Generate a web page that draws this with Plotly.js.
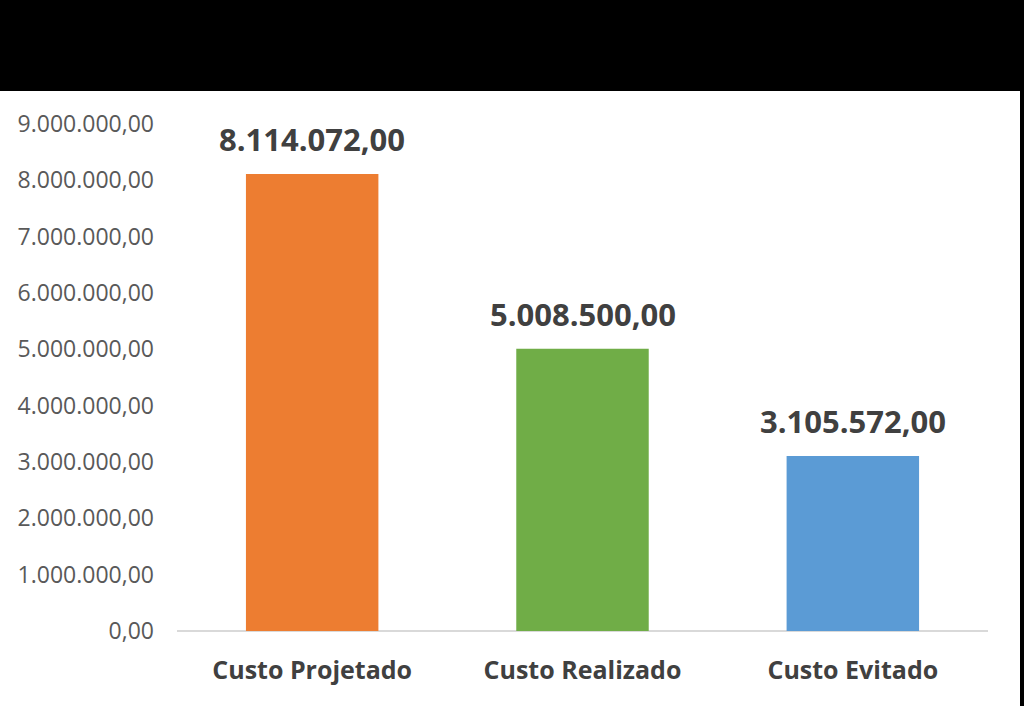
<!DOCTYPE html>
<html><head><meta charset="utf-8">
<script src="https://cdn.plot.ly/plotly-3.0.1.min.js"></script>
<style>
html,body{margin:0;padding:0;background:#000;width:1024px;height:706px;overflow:hidden}
#wrap{position:absolute;left:0;top:91px;width:1020px;height:615px;background:#fff}
#chart{width:1020px;height:615px}
</style></head><body>
<div id="wrap"><div id="chart"></div></div>
<script>
const categories = ["Custo Projetado", "Custo Realizado", "Custo Evitado"];
const values = [8114072, 5008500, 3105572];
const colors = ["#ED7D31", "#70AD47", "#5B9BD5"];
const tickVals = [0, 1000000, 2000000, 3000000, 4000000, 5000000, 6000000, 7000000, 8000000, 9000000];
const tickText = ["0,00", "1.000.000,00", "2.000.000,00", "3.000.000,00", "4.000.000,00", "5.000.000,00", "6.000.000,00", "7.000.000,00", "8.000.000,00", "9.000.000,00"];

function fmt(v){
  const s = Math.round(v).toString().replace(/\B(?=(\d{3})+(?!\d))/g, ".");
  return s + ",00";
}

const FONT = "'Open Sans', 'Liberation Sans', sans-serif";

const trace = {
  type: "bar",
  x: categories,
  y: values,
  marker: {color: colors},
  width: 0.49,
  hoverinfo: "none"
};

const annotations = categories.map((c, i) => ({
  x: c, y: values[i], xref: "x", yref: "y",
  text: "<b>" + fmt(values[i]) + "</b>",
  showarrow: false, yanchor: "bottom", yshift: 12,
  font: {family: FONT, size: 31, color: "#404040"}
}));

const layout = {
  width: 1020, height: 615,
  margin: {l: 177, r: 32, t: 33, b: 75},
  paper_bgcolor: "#ffffff",
  plot_bgcolor: "#ffffff",
  showlegend: false,
  xaxis: {
    showgrid: false, zeroline: false, showline: false, ticks: "",
    tickfont: {family: FONT, size: 25, color: "#404040", weight: "bold"},
    ticklabelstandoff: 22
  },
  yaxis: {
    range: [0, 9000000],
    tickvals: tickVals, ticktext: tickText,
    showgrid: false, zeroline: true, zerolinecolor: "#D9D9D9", zerolinewidth: 1.5,
    showline: false, ticks: "",
    tickfont: {family: FONT, size: 23, color: "#595959"},
    ticklabelstandoff: 22
  },
  annotations: annotations
};

Plotly.newPlot("chart", [trace], layout, {displayModeBar: false, staticPlot: true});
</script>
</body></html>
